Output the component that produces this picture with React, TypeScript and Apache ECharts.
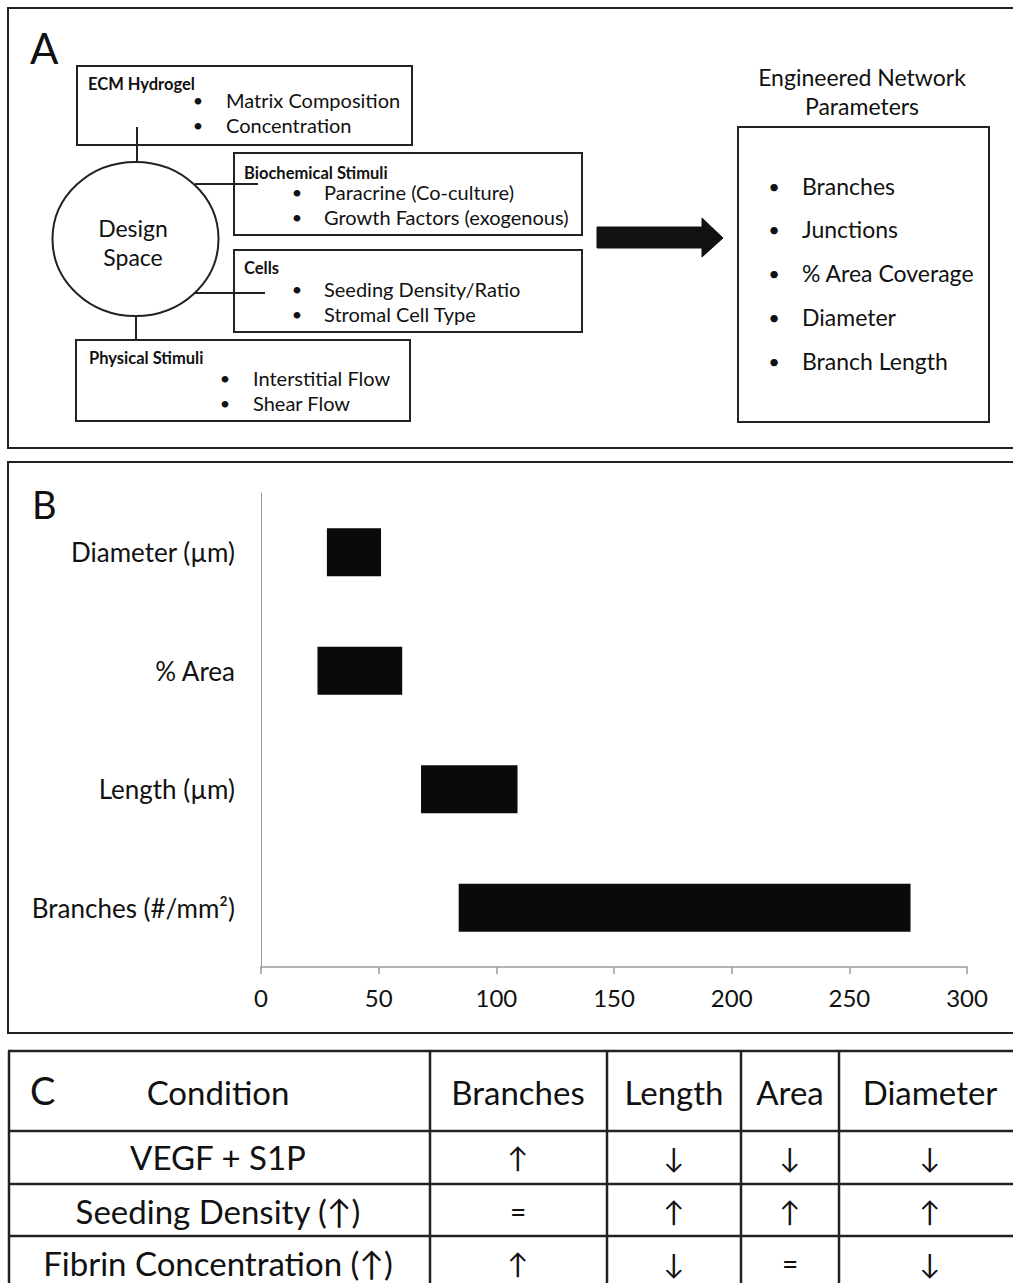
import React, { useEffect, useRef } from "react";
import * as echarts from "echarts";

// ---------- Panel B data ----------
const categories = ["Branches (#/mm²)", "Length (µm)", "% Area", "Diameter (µm)"];
const rangeStart = [84, 68, 24, 28];
const rangeEnd = [276, 109, 60, 51];
const xTicks = [0, 50, 100, 150, 200, 250, 300];

// ---------- Panel A text ----------
const designTitle = ["Design", "Space"];
const groupTitles = ["ECM Hydrogel", "Biochemical Stimuli", "Cells", "Physical Stimuli"];
const groupItems = [
  ["Matrix Composition", "Concentration"],
  ["Paracrine (Co-culture)", "Growth Factors (exogenous)"],
  ["Seeding Density/Ratio", "Stromal Cell Type"],
  ["Interstitial Flow", "Shear Flow"],
];
const networkTitle = ["Engineered Network", "Parameters"];
const networkParams = ["Branches", "Junctions", "% Area Coverage", "Diameter", "Branch Length"];

// ---------- Panel C table ----------
const tableColumns = ["Condition", "Branches", "Length", "Area", "Diameter"];
const conditions = ["VEGF + S1P", "Seeding Density (↑)", "Fibrin Concentration (↑)"];
const effectsVEGF = ["↑", "↓", "↓", "↓"];
const effectsSeeding = ["=", "↑", "↑", "↑"];
const effectsFibrin = ["↑", "↓", "=", "↓"];

const FONT = "Lato, 'DejaVu Sans', sans-serif";
const INK = "#111";
const LINE = "#222";

function txt(text: string, x: number, y: number, size: number, opts: any = {}) {
  return {
    type: "text",
    x,
    y,
    silent: true,
    style: {
      text,
      fontSize: size,
      fontFamily: FONT,
      fontWeight: opts.weight || "normal",
      fill: INK,
      textAlign: opts.align || "left",
      textVerticalAlign: "middle",
    },
  };
}
function rect(x: number, y: number, w: number, h: number, lw = 2) {
  return {
    type: "rect",
    shape: { x, y, width: w, height: h },
    style: { fill: "none", stroke: LINE, lineWidth: lw },
    silent: true,
  };
}
function line(x1: number, y1: number, x2: number, y2: number, lw = 2, color = LINE) {
  return {
    type: "line",
    shape: { x1, y1, x2, y2 },
    style: { stroke: color, lineWidth: lw },
    silent: true,
  };
}

function buildGraphics() {
  const g: any[] = [];
  // Panel frames
  g.push(rect(8, 8, 1030, 440, 2));
  g.push(rect(8, 462, 1030, 571, 2));

  // Panel A
  g.push(txt("A", 30, 48, 42));
  const boxes = [
    { x: 77, y: 66, w: 335, h: 79, tx: 88, ty: 84, bx: 198, ix: 226, iy: [100, 125] },
    { x: 234, y: 153, w: 348, h: 82, tx: 244, ty: 173, bx: 297, ix: 324, iy: [192, 217] },
    { x: 234, y: 250, w: 348, h: 82, tx: 244, ty: 268, bx: 297, ix: 324, iy: [289, 314] },
    { x: 76, y: 340, w: 334, h: 81, tx: 89, ty: 358, bx: 225, ix: 253, iy: [378, 403] },
  ];
  boxes.forEach((b, i) => {
    g.push(rect(b.x, b.y, b.w, b.h, 2));
    g.push(txt(groupTitles[i], b.tx, b.ty, 16.5, { weight: "bold" }));
    groupItems[i].forEach((it, j) => {
      g.push(txt("•", b.bx, b.iy[j], 18, { align: "center" }));
      g.push(txt(it, b.ix, b.iy[j], 20));
    });
  });
  // connectors
  g.push(line(137, 127, 137, 163));
  g.push(line(195, 184, 258, 184));
  g.push(line(195, 293, 265, 293));
  g.push(line(136, 315, 136, 340));
  g.push({
    type: "ellipse",
    shape: { cx: 135.5, cy: 239, rx: 83, ry: 77 },
    style: { fill: "#fff", stroke: LINE, lineWidth: 2 },
    silent: true,
  });
  g.push(txt(designTitle[0], 133, 228, 23, { align: "center" }));
  g.push(txt(designTitle[1], 133, 257, 23, { align: "center" }));

  // arrow
  g.push({
    type: "polygon",
    shape: {
      points: [
        [597, 227], [702, 227], [702, 218], [723, 238], [702, 257], [702, 248], [597, 248],
      ],
    },
    style: { fill: "#111", stroke: "#111", lineWidth: 1, lineJoin: "round" },
    silent: true,
  });

  // right box
  g.push(txt(networkTitle[0], 862, 77, 23, { align: "center" }));
  g.push(txt(networkTitle[1], 862, 106, 23, { align: "center" }));
  g.push(rect(738, 127, 251, 295, 2));
  const ny = [186, 229, 273, 317, 361];
  networkParams.forEach((p, i) => {
    g.push(txt("•", 774, ny[i], 20, { align: "center" }));
    g.push(txt(p, 802, ny[i], 23));
  });

  // Panel B letter
  g.push(txt("B", 32, 504, 38));

  // Panel C table
  const top = 1051;
  const rowLines = [1131, 1184, 1236];
  const colLines = [430, 607, 741, 839];
  const colCenters = [218, 518, 674, 790, 930];
  const rowCenters = [1157, 1211, 1263];
  g.push(line(8, top, 1030, top, 2.5));
  rowLines.forEach((y) => g.push(line(8, y, 1030, y, 2.5)));
  g.push(line(9, top, 9, 1300, 2.5));
  colLines.forEach((x) => g.push(line(x, top, x, 1300, 2.5)));
  g.push(txt("C", 30, 1090, 38));
  tableColumns.forEach((c, i) => g.push(txt(c, colCenters[i], 1092, 33, { align: "center" })));
  const effects = [effectsVEGF, effectsSeeding, effectsFibrin];
  conditions.forEach((c, r) => {
    g.push(txt(c, colCenters[0], rowCenters[r], 33, { align: "center" }));
    effects[r].forEach((e, k) => {
      g.push(txt(e, colCenters[k + 1], rowCenters[r], 28, { align: "center" }));
    });
  });
  return g;
}

export default function App() {
  const ref = useRef<HTMLDivElement>(null);
  useEffect(() => {
    if (!ref.current) return;
    const chart = echarts.init(ref.current, null, { renderer: "svg" });
    const span = rangeEnd.map((e, i) => e - rangeStart[i]);
    chart.setOption({
      animation: false,
      backgroundColor: "#fff",
      grid: { left: 261, right: 46, top: 493, bottom: 316, containLabel: false },
      xAxis: {
        type: "value",
        min: xTicks[0],
        max: xTicks[xTicks.length - 1],
        interval: xTicks[1] - xTicks[0],
        axisLine: { show: true, lineStyle: { color: "#9a9a9a", width: 1.5 } },
        axisTick: { show: true, length: 7, lineStyle: { color: "#9a9a9a", width: 1.5 } },
        axisLabel: { color: INK, fontSize: 24, fontFamily: FONT, margin: 18 },
        splitLine: { show: false },
      },
      yAxis: {
        type: "category",
        data: categories,
        axisLine: { show: true, lineStyle: { color: "#9a9a9a", width: 1 } },
        axisTick: { show: false },
        axisLabel: { color: INK, fontSize: 26, fontFamily: FONT, margin: 26 },
        splitLine: { show: false },
      },
      series: [
        {
          type: "bar",
          stack: "range",
          data: rangeStart,
          barWidth: 48,
          itemStyle: { color: "transparent" },
          silent: true,
        },
        {
          type: "bar",
          stack: "range",
          data: span,
          barWidth: 48,
          itemStyle: { color: "#0a0a0a" },
        },
      ],
      graphic: { elements: buildGraphics() },
    });
    return () => chart.dispose();
  }, []);
  return (
    <div
      ref={ref}
      style={{ position: "absolute", left: 0, top: 0, width: 1013, height: 1283, background: "#fff" }}
    />
  );
}
